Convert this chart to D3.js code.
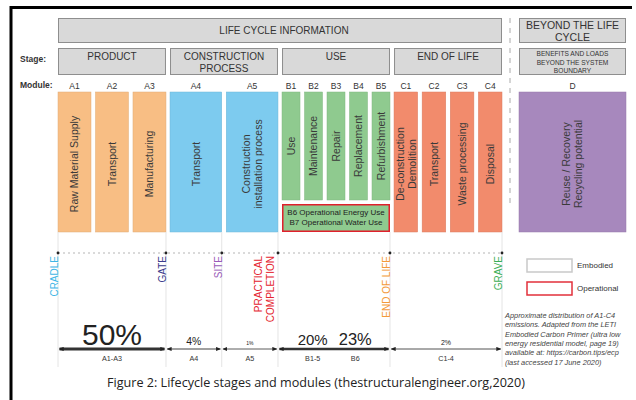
<!DOCTYPE html>
<html><head><meta charset="utf-8">
<script src="https://cdn.jsdelivr.net/npm/d3@7"></script>
<style>body{margin:0;background:#fff}svg{display:block}</style>
</head><body>
<script>
// ---------------- DATA ----------------
const headerTitle = "LIFE CYCLE INFORMATION";
const beyondTitle = "BEYOND THE LIFE\nCYCLE";
const stages = ["PRODUCT", "CONSTRUCTION\nPROCESS", "USE", "END OF LIFE"];
const beyondStage = "BENEFITS AND LOADS\nBEYOND THE SYSTEM\nBOUNDARY";
const modules = ["A1","A2","A3","A4","A5","B1","B2","B3","B4","B5","C1","C2","C3","C4","D"];
const moduleStage = [0,0,0,1,1,2,2,2,2,2,3,3,3,3,4];
const moduleNames = ["Raw Material Supply","Transport","Manufacturing","Transport",
  "Construction\ninstallation process","Use","Maintenance","Repair","Replacement",
  "Refurbishment","De-construction\nDemolition","Transport","Waste processing","Disposal",
  "Reuse / Recovery\nRecycling potential"];
const operationalModules = ["B6 Operational Energy Use","B7 Operational Water Use"];
const milestones = ["CRADLE","GATE","SITE","PRACTICAL\nCOMPLETION","END OF LIFE","GRAVE"];
const milestoneModule = ["A1","A3","A4","A5","B5","C4"];
const milestoneSide = ["start","end","end","end","end","end"];
const shareGroups = ["A1-A3","A4","A5","B1-5","B6","C1-4"];
const shareValues = [50,4,1,20,23,2];
const shareSegment = [0,1,2,3,3,4];
const legendItems = ["Embodied","Operational"];
const noteLines = ["Approximate distribution of A1-C4","emissions. Adapted from the LETI",
  "Embodied Carbon Primer (ultra low","energy residential model, page 19)",
  "available at: https://carbon.tips/ecp","(last accessed 17 June 2020)"];
const caption = "Figure 2: Lifecycle stages and modules (thestructuralengineer.org,2020)";

// ---------------- STYLE / LAYOUT ----------------
const W = 636, H = 400;
const stageColors = ["#f8be84","#7dcbef","#8fca8f","#f28b6c","#a788bd"];
const boxFill = "#d9d9d9", boxStroke = "#8e8e8e";
const font = "'Liberation Sans', Arial, sans-serif";
const milestoneColors = ["#3fb6e6","#3b3b8c","#9a5bb8","#e42530","#f39a3a","#3cae56"];

const svg = d3.select("body").append("svg").attr("width", W).attr("height", H)
  .style("font-family", font);
svg.append("rect").attr("width", W).attr("height", H).attr("fill", "#fff");

// frame
svg.append("path").attr("d", "M11,400V7.5H632").attr("fill","none")
  .attr("stroke","#000").attr("stroke-width",3);

// scales
const xStage = d3.scaleBand().domain(d3.range(stages.length)).range([58, 502]).paddingInner(4/111);
const beyondRange = [519, 626];
function stageExtent(s){ return s < stages.length ? [xStage(s), xStage(s)+xStage.bandwidth()] : beyondRange; }
const gap = 4.5;
const xModule = {};
d3.range(stages.length + 1).forEach(s => {
  const mods = modules.filter((m,i) => moduleStage[i] === s);
  const [a,b] = stageExtent(s);
  const n = mods.length;
  const p = n > 1 ? gap*n/((b-a)+gap) : 0;
  const sc = d3.scaleBand().domain(mods).range([a,b]).paddingInner(p);
  mods.forEach(m => xModule[m] = sc);
});
const mx0 = m => xModule[m](m), mx1 = m => xModule[m](m) + xModule[m].bandwidth();

function multiText(g, str, x, y, lh, opts){
  const lines = str.split("\n");
  const t = g.append("text").attr("x", x).attr("y", y).attr("text-anchor","middle");
  Object.entries(opts||{}).forEach(([k,v]) => t.attr(k,v));
  lines.forEach((l,i) => t.append("tspan").attr("x", x).attr("y", y + i*lh).text(l));
  return t;
}

// header boxes
const yTop = [18, 43], yStage = [48, 75];
function box(x0,x1,y0,y1){
  svg.append("rect").attr("x",x0+0.5).attr("y",y0+0.5).attr("width",x1-x0-1).attr("height",y1-y0-1)
    .attr("fill",boxFill).attr("stroke",boxStroke).attr("stroke-width",1);
}
box(xStage(0), stageExtent(stages.length-1)[1], yTop[0], yTop[1]);
multiText(svg, headerTitle, (xStage(0)+stageExtent(stages.length-1)[1])/2 + 4, 34, 12,
  {"font-size":"10px", fill:"#333"});
box(beyondRange[0], beyondRange[1], yTop[0], yTop[1]);
multiText(svg, beyondTitle, (beyondRange[0]+beyondRange[1])/2, 29, 12, {"font-size":"10.5px", fill:"#333"});

stages.forEach((s,i) => {
  const [a,b] = stageExtent(i);
  box(a,b,yStage[0],yStage[1]);
  multiText(svg, s, (a+b)/2, 60, 12, {"font-size":"10px", fill:"#333"});
});
box(beyondRange[0], beyondRange[1], yStage[0], yStage[1]);
multiText(svg, beyondStage, (beyondRange[0]+beyondRange[1])/2, 56, 8.6, {"font-size":"6.6px", fill:"#333"});

svg.append("text").attr("x",20).attr("y",62).attr("font-size","8.5px").attr("font-weight","bold")
  .attr("fill","#333").text("Stage:");
svg.append("text").attr("x",20).attr("y",88).attr("font-size","8.5px").attr("font-weight","bold")
  .attr("fill","#333").text("Module:");

// dashed separator
svg.append("line").attr("x1",510).attr("x2",510).attr("y1",18).attr("y2",205)
  .attr("stroke","#aaa").attr("stroke-dasharray","5,5");

// module labels
svg.selectAll(".mod").data(modules).join("text")
  .attr("x", m => (mx0(m)+mx1(m))/2).attr("y", 89).attr("text-anchor","middle")
  .attr("font-size","8.5px").attr("fill","#333").text(d => d);

// bars
const barTop = 92, barBottom = 232, useBottom = 200, opTop = 204;
modules.forEach((m,i) => {
  const s = moduleStage[i];
  const bottom = s === 2 ? useBottom : barBottom;
  svg.append("rect").attr("x", mx0(m)).attr("y", barTop).attr("width", mx1(m)-mx0(m))
    .attr("height", bottom-barTop).attr("fill", stageColors[s])
    .attr("stroke", d3.color(stageColors[s]).darker(0.3)).attr("stroke-width",0.5);
  const cx = (mx0(m)+mx1(m))/2, cy = s === 2 ? (barTop+useBottom)/2 : (barTop+barBottom)/2 + 2;
  const lines = moduleNames[i].split("\n");
  const g = svg.append("g").attr("transform", `translate(${cx},${cy}) rotate(-90)`);
  const t = g.append("text").attr("text-anchor","middle").attr("font-size","10.5px").attr("fill","#3a3a3a");
  lines.forEach((l,j) => t.append("tspan").attr("x",0)
    .attr("y", (j-(lines.length-1)/2)*12).attr("dy","0.36em").text(l));
});
// operational box
{
  const x0 = mx0("B1"), x1 = mx1("B5");
  svg.append("rect").attr("x",x0+0.75).attr("y",opTop+0.75).attr("width",x1-x0-1.5).attr("height",barBottom-opTop-1.5)
    .attr("fill",stageColors[2]).attr("stroke","#e0202c").attr("stroke-width",1.5);
  multiText(svg, operationalModules.join("\n"), (x0+x1)/2, 214.5, 10.5, {"font-size":"8px", fill:"#222"});
}

// milestones
const msX = milestoneModule.map((m,i) => milestoneSide[i] === "start" ? mx0(m) : mx1(m));
const msY = 253;
svg.selectAll(".vl").data(msX).join("line")
  .attr("x1", d=>d).attr("x2", d=>d).attr("y1", barBottom).attr("y2", 367)
  .attr("stroke","#e4e4e4").attr("stroke-width",1);
svg.append("line").attr("x1", msX[0]).attr("x2", msX[msX.length-1]).attr("y1", msY).attr("y2", msY)
  .attr("stroke","#b5b5b5").attr("stroke-dasharray","2,3");
svg.selectAll(".dot").data(msX).join("circle").attr("cx", d=>d).attr("cy", msY).attr("r",1.4).attr("fill","#222");
milestones.forEach((m,i) => {
  const lines = m.split("\n");
  const n = lines.length;
  const g = svg.append("g").attr("transform", `translate(${msX[i] - (n>1?4:0)},${msY+3}) rotate(-90)`);
  const t = g.append("text").attr("text-anchor","end").attr("font-size","10px").attr("fill", milestoneColors[i]);
  lines.forEach((l,j) => t.append("tspan").attr("x",0).attr("y", (j-(n-1))*12).text(l));
});

// share arrows
const defs = svg.append("defs");
defs.append("marker").attr("id","arr").attr("viewBox","0 -3 6 6").attr("refX",5).attr("refY",0)
  .attr("markerWidth",5).attr("markerHeight",5).attr("markerUnits","userSpaceOnUse")
  .attr("orient","auto-start-reverse")
  .append("path").attr("d","M0,-2.5L6,0L0,2.5Z").attr("fill","#222");
const arrowY = 349;
const segTotals = d3.range(msX.length-1).map(s => d3.sum(shareValues.filter((v,i)=>shareSegment[i]===s)));
const sw = d3.scaleLinear().domain([1,50]).range([0.8,3]);
segTotals.forEach((v,s) => {
  svg.append("line").attr("x1", msX[s]+1.5).attr("x2", msX[s+1]-1.5).attr("y1",arrowY).attr("y2",arrowY)
    .attr("stroke","#333").attr("stroke-width", sw(v))
    .attr("marker-start","url(#arr)").attr("marker-end","url(#arr)");
});
const fs = d3.scaleLinear().domain([1,2,4,20,50]).range([5,7,10.4,15,30]);
shareGroups.forEach((g,i) => {
  const s = shareSegment[i];
  const members = shareGroups.filter((d,k)=>shareSegment[k]===s);
  const idx = members.indexOf(g);
  const frac = members.length === 1 ? 0.5 : [0.31,0.69][idx];
  const x = msX[s] + (msX[s+1]-msX[s])*frac;
  svg.append("text").attr("x",x).attr("y",345).attr("text-anchor","middle")
    .attr("font-size", fs(shareValues[i])+"px").attr("fill","#222").text(shareValues[i]+"%");
  svg.append("text").attr("x",x).attr("y",361).attr("text-anchor","middle")
    .attr("font-size","7.2px").attr("fill","#333").text(g);
});

// legend
const legColors = ["#c9c9c9","#e2303b"];
legendItems.forEach((l,i) => {
  const y = 259 + i*23;
  svg.append("rect").attr("x",527).attr("y",y).attr("width",45).attr("height",13)
    .attr("fill","#fff").attr("stroke",legColors[i]).attr("stroke-width",1.5);
  svg.append("text").attr("x",577).attr("y",y+8.5).attr("font-size","8px").attr("fill","#333").text(l);
});
// note
noteLines.forEach((l,i) => {
  svg.append("text").attr("x",505).attr("y",318+i*9.3).attr("font-size","7.4px")
    .attr("font-style","italic").attr("fill","#444").text(l);
});

// caption
svg.append("text").attr("x",316).attr("y",387).attr("text-anchor","middle")
  .attr("font-family","'Open Sans', sans-serif").attr("font-size","13px").attr("fill","#222")
  .attr("textLength",418).attr("lengthAdjust","spacingAndGlyphs").text(caption);
</script>
</body></html>
